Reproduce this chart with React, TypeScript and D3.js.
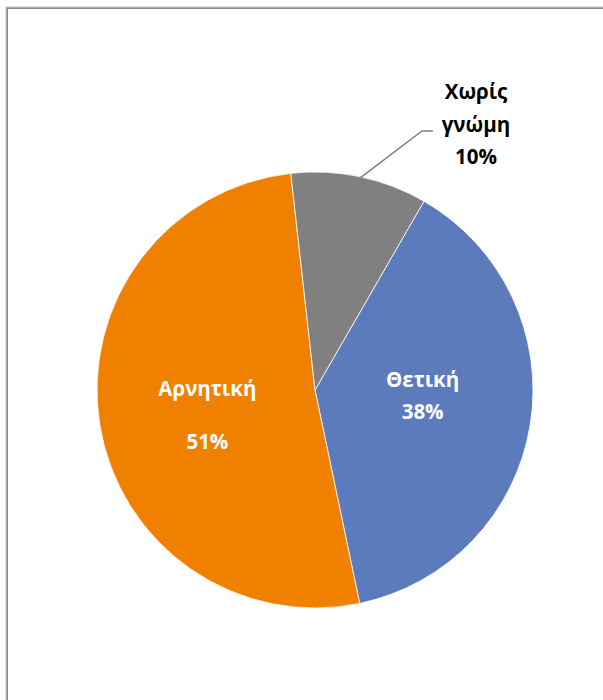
import React from 'react'
import * as d3 from 'd3'

const categories = ['Θετική', 'Αρνητική', 'Χωρίς γνώμη']
const values = [38, 51, 10]
const labels = ['38%', '51%', '10%']
const colors = ['#5B7BBC', '#F08000', '#808080']

const width = 603
const height = 700
const cx = 315
const cy = 390
const radius = 218
const firstSliceAngle = 30 // degrees, like Excel's "angle of first slice"

const font = "'Open Sans', 'DejaVu Sans', sans-serif"

export default function App() {
    const rad = (deg: number) => (deg * Math.PI) / 180
    const pie = d3.pie<number>()
        .sort(null)
        .startAngle(rad(firstSliceAngle))
        .endAngle(rad(firstSliceAngle + 360))
    const arcs = pie(values)

    const arc = d3.arc<d3.PieArcDatum<number>>()
        .innerRadius(0)
        .outerRadius(radius)

    const labelArc = d3.arc<d3.PieArcDatum<number>>()
        .innerRadius(radius * 0.5)
        .outerRadius(radius * 0.5)

    // label offsets around the centroid: [first line, second line]
    const lineOffsets = [[-27, 5], [-18, 35]]

    // the small slice gets its label outside with a leader line
    const small = arcs[2]
    const smallMid = (small.startAngle + small.endAngle) / 2
    const edge = [Math.sin(smallMid) * (radius - 2), -Math.cos(smallMid) * (radius - 2)]

    return (
        <svg width={width} height={height} style={{ position: 'absolute', left: 0, top: 0 }}>
            <rect x={0} y={0} width={width} height={height} fill="white" />
            {/* chart frame, runs off the right and bottom */}
            <rect x={7} y={8} width={width + 20} height={height + 20} fill="none" stroke="#8c8c8c" strokeWidth={2} />
            <rect x={6} y={7} width={width + 20} height={height + 20} fill="none" stroke="#c8c8c8" strokeWidth={1} />

            <g transform={`translate(${cx},${cy})`}>
                {arcs.map((a, i) => (
                    <path key={categories[i]} d={arc(a) ?? ''} fill={colors[i]} stroke="white" strokeWidth={0.8} />
                ))}

                {arcs.slice(0, 2).map((a, i) => {
                    const [x, y] = labelArc.centroid(a)
                    return (
                        <g key={categories[i]} fontFamily={font} fontWeight="bold" fontSize={20.5} fill="white" textAnchor="middle">
                            <text x={x} y={y + lineOffsets[i][0]} dy="0.35em">{categories[i]}</text>
                            <text x={x} y={y + lineOffsets[i][1]} dy="0.35em">{labels[i]}</text>
                        </g>
                    )
                })}

                <polyline
                    points={`${edge[0]},${edge[1]} ${107},${-259} ${118},${-259}`}
                    fill="none" stroke="#808080" strokeWidth={1.5} />
                <g fontFamily={font} fontWeight="bold" fontSize={20.5} fill="#000" textAnchor="middle">
                    <text x={161} y={-298} dy="0.35em">Χωρίς</text>
                    <text x={161} y={-265} dy="0.35em">γνώμη</text>
                    <text x={161} y={-233} dy="0.35em">{labels[2]}</text>
                </g>
            </g>
        </svg>
    )
}
